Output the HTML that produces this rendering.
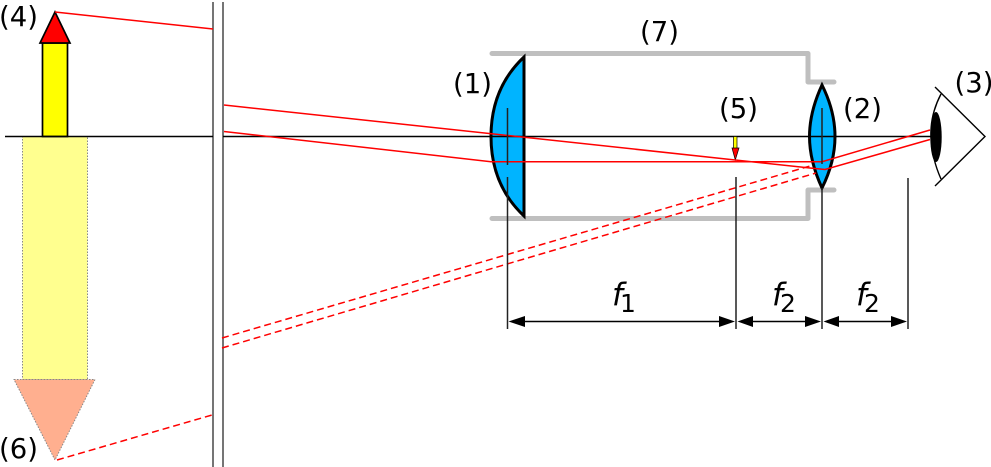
<!DOCTYPE html>
<html><head><meta charset="utf-8"><style>
html,body{margin:0;padding:0;background:#fff;width:991px;height:467px;overflow:hidden}
svg{display:block}
text{font-family:"DejaVu Sans","Liberation Sans",sans-serif;font-size:27.5px;fill:#000}
</style></head><body>
<svg width="991" height="467" viewBox="0 0 991 467" xmlns="http://www.w3.org/2000/svg">
<rect width="991" height="467" fill="#fff"/>
<!-- virtual image -->
<g stroke="#888" stroke-width="1" stroke-dasharray="1.5 1.5">
<rect x="22.5" y="136.5" width="65" height="243" fill="#ffff8f"/>
<path d="M14,379.5H95L55,460Z" fill="#ffaf8f"/>
</g>
<!-- object -->
<rect x="42.5" y="43" width="25" height="93.5" fill="#ff0" stroke="#000" stroke-width="1.7"/>
<path d="M55,12L70,43H40Z" fill="#f00" stroke="#000" stroke-width="1.7"/>
<!-- tube -->
<g fill="none" stroke="#bfbfbf" stroke-width="5" stroke-linecap="round" stroke-linejoin="round">
<path d="M492,53.5H808V82H834"/>
<path d="M492,218.5H808V190H834"/>
</g>
<!-- lenses -->
<path d="M524,57Q491,88 491,136.5T524,216Z" fill="#00b4ff" stroke="#000" stroke-width="3"/>
<path d="M822,85Q809.5,112 809.5,136.5T822,188Q835,162 835,136.5T822,85Z" fill="#00b4ff" stroke="#000" stroke-width="3"/>
<!-- break lines -->
<path d="M213,2V467M223,2V467" stroke="#666" stroke-width="1.8" fill="none"/>
<!-- axis -->
<path d="M5,136.5H213M223,136.5H932" stroke="#000" stroke-width="1.4" fill="none"/>
<!-- small image -->
<rect x="733.5" y="136.5" width="3.5" height="12" fill="#ff0" stroke="#000" stroke-width=".7"/>
<path d="M735.3,160L732,148H739Z" fill="#f00" stroke="#000" stroke-width=".7"/>
<!-- rays -->
<g fill="none" stroke="#f00" stroke-width="1.5">
<path d="M55,12L213,29"/>
<path d="M224,105L810,168L825,169.5L930,139.5"/>
<path d="M224,131.5L491,161.7H822L930,130"/>
</g>
<g fill="none" stroke="#f00" stroke-width="1.5" stroke-dasharray="7 4">
<path d="M57,460L212,415"/>
<path d="M222,338L810,166"/>
<path d="M222,348L816,173"/>
</g>
<!-- eye -->
<path d="M935,87L985,136.5L935,186" fill="none" stroke="#000" stroke-width="1.4"/>
<path d="M941,94Q930,115 931,137T941,179" fill="none" stroke="#000" stroke-width="1.4"/>
<ellipse cx="936" cy="137" rx="5.7" ry="25" fill="#000"/>
<!-- verticals -->
<path d="M507.5,108V165M507.5,177V329M736,177V329M822,108V164M822,188V329M908,178V329" fill="none" stroke="#222" stroke-width="1.5"/>
<!-- dimensions -->
<path d="M520,321.5H724M748,321.5H811M834,321.5H897" stroke="#000" stroke-width="1.5" fill="none"/>
<g fill="#000">
<path d="M508.5,321.5L525,316V327Z"/><path d="M735,321.5L719,316V327Z"/>
<path d="M737.5,321.5L753,316V327Z"/><path d="M821,321.5L805,316V327Z"/>
<path d="M823.5,321.5L839,316V327Z"/><path d="M907,321.5L891,316V327Z"/>
</g>
<!-- labels -->
<text x="-1" y="26">(4)</text>
<text x="-1" y="458">(6)</text>
<text x="453" y="93">(1)</text>
<text x="640" y="41">(7)</text>
<text x="719" y="118">(5)</text>
<text x="843" y="118">(2)</text>
<text x="954.5" y="92">(3)</text>
<text x="612" y="305" font-style="italic" style="font-size:31px">f</text>
<text x="620" y="312" style="font-size:25px">1</text>
<text x="772" y="305" font-style="italic" style="font-size:31px">f</text>
<text x="780" y="312" style="font-size:25px">2</text>
<text x="856" y="305" font-style="italic" style="font-size:31px">f</text>
<text x="864" y="312" style="font-size:25px">2</text>
</svg>
</body></html>
